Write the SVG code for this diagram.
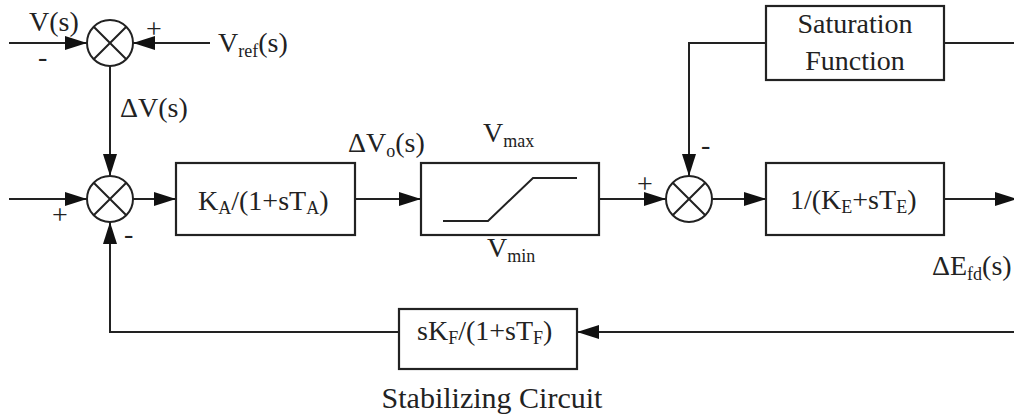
<svg xmlns="http://www.w3.org/2000/svg" width="1014" height="417" viewBox="0 0 1014 417">
<style>
.ln{fill:none;stroke:#222;stroke-width:2}
.bx{fill:#fff;stroke:#222;stroke-width:2.2}
.t{font-family:"Liberation Serif","DejaVu Serif","Times New Roman",serif;font-size:28px;fill:#222}
.s{font-size:18px}
.c{text-anchor:middle}
</style>
<defs>
<marker id="ah" viewBox="0 0 22 14" refX="22" refY="7" markerWidth="22" markerHeight="14" markerUnits="userSpaceOnUse" orient="auto">
<path d="M0,0 L22,7 L0,14 z" fill="#111"/>
</marker>
</defs>
<g id="connectors">
<line class="ln" x1="9" y1="43" x2="87" y2="43" marker-end="url(#ah)"/>
<line class="ln" x1="210" y1="43" x2="133" y2="43" marker-end="url(#ah)"/>
<line class="ln" x1="110" y1="66" x2="110" y2="176" marker-end="url(#ah)"/>
<line class="ln" x1="9" y1="199" x2="87" y2="199" marker-end="url(#ah)"/>
<line class="ln" x1="133" y1="199" x2="176" y2="199" marker-end="url(#ah)"/>
<line class="ln" x1="355" y1="199" x2="421" y2="199" marker-end="url(#ah)"/>
<line class="ln" x1="599" y1="199" x2="666" y2="199" marker-end="url(#ah)"/>
<line class="ln" x1="712" y1="199" x2="766" y2="199" marker-end="url(#ah)"/>
<line class="ln" x1="944" y1="199" x2="1017" y2="199" marker-end="url(#ah)"/>
<polyline class="ln" points="766,43 689,43 689,176" marker-end="url(#ah)"/>
<line class="ln" x1="944" y1="43" x2="1014" y2="43"/>
<line class="ln" x1="1014" y1="332" x2="577" y2="332" marker-end="url(#ah)"/>
<polyline class="ln" points="399,332 110,332 110,222" marker-end="url(#ah)"/>
</g>
<g id="sum1">
<circle class="ln" cx="110" cy="43" r="23"/>
<path class="ln" d="M93.7,26.7 L126.3,59.3 M126.3,26.7 L93.7,59.3"/>
</g>
<g id="sum2">
<circle class="ln" cx="110" cy="199" r="23"/>
<path class="ln" d="M93.7,182.7 L126.3,215.3 M126.3,182.7 L93.7,215.3"/>
</g>
<g id="sum3">
<circle class="ln" cx="689" cy="199" r="23"/>
<path class="ln" d="M672.7,182.7 L705.3,215.3 M705.3,182.7 L672.7,215.3"/>
</g>
<g id="ka">
<rect class="bx" x="176" y="163" width="179" height="72"/>
<text class="t" x="198" y="210">K<tspan class="s" dy="4">A</tspan><tspan dy="-4">/(1+sT</tspan><tspan class="s" dy="4">A</tspan><tspan dy="-4">)</tspan></text>
</g>
<g id="limiter">
<rect class="bx" x="421" y="163" width="178" height="72"/>
<polyline class="ln" points="443,221 488,221 533,178 577,178"/>
</g>
<g id="saturation">
<rect class="bx" x="766" y="6" width="178" height="74"/>
<text class="t c" x="855" y="33">Saturation</text>
<text class="t c" x="855" y="70">Function</text>
</g>
<g id="exciter">
<rect class="bx" x="766" y="163" width="178" height="72"/>
<text class="t" x="790" y="209">1/(K<tspan class="s" dy="4">E</tspan><tspan dy="-4">+sT</tspan><tspan class="s" dy="4">E</tspan><tspan dy="-4">)</tspan></text>
</g>
<g id="stabilizer">
<rect class="bx" x="399" y="309" width="178" height="60"/>
<text class="t" x="417" y="340">sK<tspan class="s" dy="4">F</tspan><tspan dy="-4">/(1+sT</tspan><tspan class="s" dy="4">F</tspan><tspan dy="-4">)</tspan></text>
</g>
<g id="labels">
<text class="t" x="29" y="31">V(s)</text>
<text class="t" x="38" y="66">-</text>
<text class="t" x="146" y="38">+</text>
<text class="t" x="218" y="52">V<tspan class="s" dy="5">ref</tspan><tspan dy="-5">(s)</tspan></text>
<text class="t" x="120" y="117">ΔV(s)</text>
<text class="t" x="52" y="224">+</text>
<text class="t" x="124" y="243">-</text>
<text class="t" x="348" y="152">ΔV<tspan class="s" dy="5">o</tspan><tspan dy="-5">(s)</tspan></text>
<text class="t" x="483" y="142">V<tspan class="s" dy="5">max</tspan></text>
<text class="t" x="487" y="257">V<tspan class="s" dy="5">min</tspan></text>
<text class="t" x="637" y="193">+</text>
<text class="t" x="701" y="154">-</text>
<text class="t" x="932" y="275">ΔE<tspan class="s" dy="5">fd</tspan><tspan dy="-5">(s)</tspan></text>
<text class="t c" x="492" y="408" style="font-size:30px">Stabilizing Circuit</text>
</g>
</svg>
